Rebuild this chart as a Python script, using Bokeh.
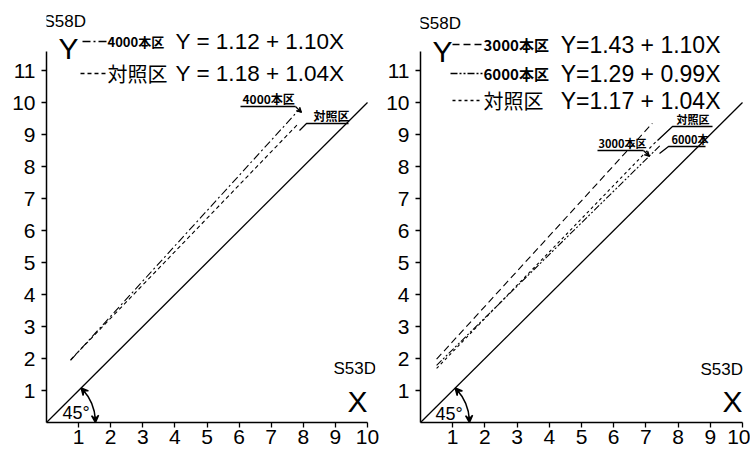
import math
from bokeh.plotting import figure
from bokeh.layouts import row
from bokeh.models import Range1d, FixedTicker, Arrow, VeeHead
from bokeh.core.properties import value
from bokeh.embed import file_html
from bokeh.resources import INLINE

# ---------------- data ----------------
x_ticks = [1, 2, 3, 4, 5, 6, 7, 8, 9, 10]
y_ticks = [1, 2, 3, 4, 5, 6, 7, 8, 9, 10, 11]
x_title = "S53D"
y_title = "S58D"
x_letter = "X"
y_letter = "Y"
angle_text = "45°"
diag_x = [0, 10]

left_names = ["4000本区", "対照区"]
left_eqs = ["Y = 1.12 + 1.10X", "Y = 1.18 + 1.04X"]
left_a = [1.12, 1.18]
left_b = [1.10, 1.04]
left_x0 = [0.75, 0.75]
left_x1 = [7.85, 7.85]
left_tags = ["4000本区", "対照区"]

right_names = ["3000本区", "6000本区", "対照区"]
right_eqs = ["Y=1.43 + 1.10X", "Y=1.29 + 0.99X", "Y=1.17 + 1.04X"]
right_a = [1.43, 1.29, 1.17]
right_b = [1.10, 0.99, 1.04]
right_x0 = [0.5, 0.5, 0.5]
right_x1 = [7.2, 7.45, 7.3]
right_tags = ["3000本区", "6000本", "対照区"]

# ---------------- styling / layout ----------------
LAT = "Liberation Sans"
CJK = "Noto Sans CJK JP"
H = 455
TOP = 10
SY = 32.0
OY = 422  # page y of Y=0
left_dash = ["8 3 2 3", "4 3"]
right_dash = ["7 4", "7 2 2 2 2 2", "3 3"]


def panel(width, mbl, mbr, sx, ox):
    fw = width - mbl - mbr
    p = figure(width=width, height=H, x_range=Range1d(0, fw / sx),
               y_range=Range1d(0, (OY - TOP) / SY), output_backend="svg",
               toolbar_location=None, min_border_left=mbl, min_border_right=mbr,
               min_border_top=TOP, min_border_bottom=H - OY)
    p.grid.visible = False
    p.outline_line_color = None
    p.background_fill_color = "white"
    p.xaxis.ticker = FixedTicker(ticks=x_ticks)
    p.yaxis.ticker = FixedTicker(ticks=y_ticks)
    p.xaxis.bounds = (0, 10)
    p.yaxis.bounds = (0, 11.6)
    for ax in (p.xaxis[0], p.yaxis[0]):
        ax.axis_line_width = 1.5
        ax.axis_line_color = "black"
        ax.major_tick_line_color = "black"
        ax.major_tick_line_width = 1.3
        ax.major_tick_out = 5
        ax.major_tick_in = 0
        ax.minor_tick_line_color = None
        ax.major_label_text_font = LAT
        ax.major_label_text_font_size = "21px"
        ax.major_label_text_color = "black"
    p.xaxis.major_label_standoff = 2
    p.yaxis.major_label_standoff = 6

    def X(px):
        return (px - ox) / sx

    def Y(py):
        return (OY - py) / SY

    return p, X, Y


def txt(p, x, y, s, font, size, align="left", style="normal"):
    p.text(x=[x], y=[y], text=[s], text_font=value(font), text_font_size=size,
           text_align=align, text_baseline="middle", text_color="black",
           text_font_style=style)


def angle_mark(p, X, Y, sx, lx, ly):
    r = 49 / sx
    p.arc(x=[0], y=[0], radius=r, start_angle=math.radians(3),
          end_angle=math.radians(42), line_width=1.6, color="black")
    for a0, a1 in ((38, 45), (7, 0)):
        p.add_layout(Arrow(end=VeeHead(size=7, line_width=1.5),
                           x_start=r * math.cos(math.radians(a0)),
                           y_start=r * math.sin(math.radians(a0)),
                           x_end=r * math.cos(math.radians(a1)),
                           y_end=r * math.sin(math.radians(a1)),
                           line_width=1.5))
    txt(p, X(lx), Y(ly), angle_text, LAT, "18px")


def leader(p, pts, arrow=False):
    xs = [q[0] for q in pts]
    ys = [q[1] for q in pts]
    p.line(xs[:-1] if arrow else xs, ys[:-1] if arrow else ys, color="black", line_width=1.3)
    if arrow:
        p.add_layout(Arrow(end=VeeHead(size=5, line_width=1.2), x_start=xs[-2], y_start=ys[-2],
                           x_end=xs[-1], y_end=ys[-1], line_width=1.3))


# ---------------- left panel ----------------
pl, XL, YL = panel(382, 46, 7, 32.1, 46)
pl.line(diag_x, diag_x, color="black", line_width=1.3)
for i in range(len(left_names)):
    xs = [left_x0[i], left_x1[i]]
    ys = [left_a[i] + left_b[i] * v for v in xs]
    pl.line(xs, ys, color="black", line_width=1.1, line_dash=left_dash[i])

txt(pl, XL(43), YL(21), y_title, LAT, "17px")
txt(pl, XL(58), YL(48), y_letter, LAT, "30px")
rows_y = [41, 73]
sw = [(82, 106), (80, 106)]
name_sizes = ["13px", "20px"]
for i in range(len(left_names)):
    pl.line([XL(sw[i][0]), XL(sw[i][1])], [YL(rows_y[i])] * 2, color="black",
            line_width=1.3, line_dash=left_dash[i])
    txt(pl, XL(107), YL(rows_y[i]), left_names[i], CJK, name_sizes[i], style="bold" if i == 0 else "normal")
    txt(pl, XL(344), YL(rows_y[i]), left_eqs[i], LAT, "22.5px", align="right")

# in-plot tags
txt(pl, XL(242), YL(98), left_tags[0], CJK, "12px", style="bold")
leader(pl, [(XL(240), YL(106)), (XL(295), YL(106)), (XL(301), YL(112))], arrow=True)
txt(pl, XL(313), YL(115), left_tags[1], CJK, "12px", style="bold")
leader(pl, [(XL(348), YL(123)), (XL(306), YL(123)), (XL(299), YL(130))])

txt(pl, XL(333), YL(368), x_title, LAT, "17px")
txt(pl, XL(357), YL(401), x_letter, LAT, "30px", align="center")
angle_mark(pl, XL, YL, 32.1, 62, 412)

# ---------------- right panel ----------------
pr, XR, YR = panel(368, 38, 0, 32.2, 420)
pr.line(diag_x, diag_x, color="black", line_width=1.3)
for i in range(len(right_names)):
    xs = [right_x0[i], right_x1[i]]
    ys = [right_a[i] + right_b[i] * v for v in xs]
    pr.line(xs, ys, color="black", line_width=1.1, line_dash=right_dash[i])

txt(pr, XR(418), YR(23), y_title, LAT, "17px")
txt(pr, XR(432), YR(51), y_letter, LAT, "30px")
rrows = [44, 73, 100]
rsw = [(452, 482), (450, 482), (452, 482)]
rname_sizes = ["15px", "15px", "20px"]
for i in range(len(right_names)):
    pr.line([XR(rsw[i][0]), XR(rsw[i][1])], [YR(rrows[i])] * 2, color="black",
            line_width=1.3, line_dash=right_dash[i])
    txt(pr, XR(483), YR(rrows[i]), right_names[i], CJK, rname_sizes[i],
        style="bold" if i < 2 else "normal")
    txt(pr, XR(720), YR(rrows[i]), right_eqs[i], LAT, "23px", align="right")

txt(pr, XR(598), YR(142), right_tags[0], CJK, "11px", style="bold")
leader(pr, [(XR(597), YR(150)), (XR(643), YR(150)), (XR(649), YR(156))], arrow=True)
txt(pr, XR(671), YR(138), right_tags[1], CJK, "11px", style="bold")
leader(pr, [(XR(705), YR(146)), (XR(668), YR(146)), (XR(659), YR(153))])
txt(pr, XR(676), YR(118), right_tags[2], CJK, "11px", style="bold")
leader(pr, [(XR(712), YR(126)), (XR(672), YR(126)), (XR(657), YR(140))])

txt(pr, XR(700), YR(369), x_title, LAT, "17px")
txt(pr, XR(732), YR(401), x_letter, LAT, "30px", align="center")
angle_mark(pr, XR, YR, 32.2, 435, 413)

layout = row(pl, pr)
open("out.html", "w").write(file_html(layout, INLINE))
